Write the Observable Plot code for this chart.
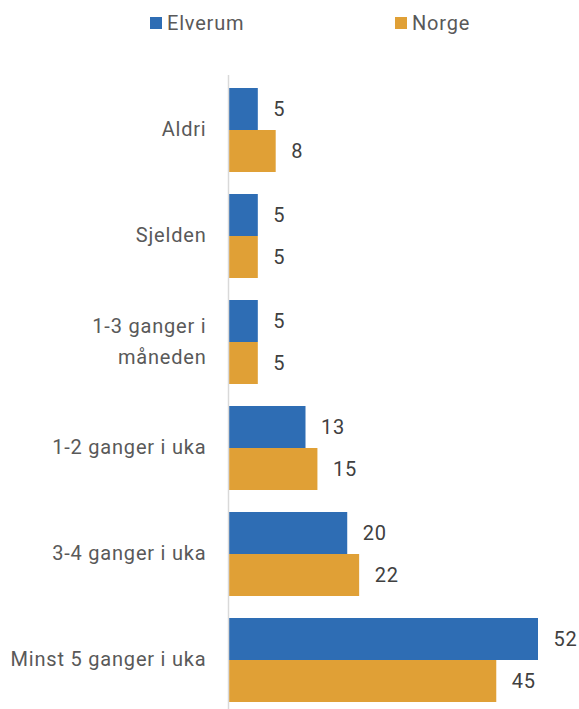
<!DOCTYPE html>
<html>
<head>
<meta charset="utf-8">
<script src="https://cdn.jsdelivr.net/npm/d3@7"></script>
<script src="https://cdn.jsdelivr.net/npm/@observablehq/plot@0.6"></script>
<style>
  body { margin: 0; background: #fff; font-family: Roboto, sans-serif; color: #595959; }
  #legend { height: 60px; position: relative; font-size: 20px; letter-spacing: 0.8px; }
  .item { position: absolute; top: 11px; display: flex; align-items: center; }
  .sw { width: 12px; height: 12px; margin-right: 5px; }
  svg text { letter-spacing: 0.8px; }
</style>
</head>
<body>
<div id="legend"></div>
<div id="chart"></div>
<script>
const categories = ["Aldri", "Sjelden", "1-3 ganger i måneden", "1-2 ganger i uka", "3-4 ganger i uka", "Minst 5 ganger i uka"];
const labels = ["Aldri", "Sjelden", "1-3 ganger i\nmåneden", "1-2 ganger i uka", "3-4 ganger i uka", "Minst 5 ganger i uka"];
const series = ["Elverum", "Norge"];
const colors = ["#2E6DB4", "#E0A036"];
const elverum = [5, 5, 5, 13, 20, 52];
const norge = [8, 5, 5, 15, 22, 45];

const legend = document.getElementById("legend");
const legendX = [150, 395];
series.forEach((s, i) => {
  const it = document.createElement("div");
  it.className = "item";
  it.style.left = legendX[i] + "px";
  it.innerHTML = `<div class="sw" style="background:${colors[i]}"></div><span>${s}</span>`;
  legend.appendChild(it);
});

const rowsE = categories.map((c, i) => ({cat: c, v: elverum[i]}));
const rowsN = categories.map((c, i) => ({cat: c, v: norge[i]}));
const labelMap = new Map(categories.map((c, i) => [c, labels[i]]));

const W = 579, H = 649;
const bw = 84;
const chart = Plot.plot({
  width: W, height: H,
  marginLeft: 228, marginRight: 41, marginTop: 15, marginBottom: 0,
  style: {fontFamily: "Roboto, sans-serif", fontSize: "20px", color: "#595959", background: "#fff"},
  x: {domain: [0, 52], range: [228, 538], axis: null},
  y: {domain: categories, range: [27, 643], paddingInner: 0.21, paddingOuter: 0, axis: null},
  marks: [
    Plot.barX(rowsE, {y: "cat", x: "v", fill: colors[0], insetBottom: bw / 2}),
    Plot.barX(rowsN, {y: "cat", x: "v", fill: colors[1], insetTop: bw / 2}),
    Plot.ruleX([0], {stroke: "#d9d9d9", strokeWidth: 1.5}),
    Plot.text(rowsE, {y: "cat", x: "v", text: d => String(d.v), dy: -bw / 4, dx: 15, textAnchor: "start", fill: "#404040", fontSize: 20}),
    Plot.text(rowsN, {y: "cat", x: "v", text: d => String(d.v), dy: bw / 4, dx: 15, textAnchor: "start", fill: "#404040", fontSize: 20}),
    Plot.text(categories, {y: d => d, x: 0, text: d => labelMap.get(d), dx: -22, dy: -4, textAnchor: "end", fill: "#595959", fontSize: 20, lineHeight: 1.55})
  ]
});
document.getElementById("chart").appendChild(chart);
</script>
</body>
</html>
